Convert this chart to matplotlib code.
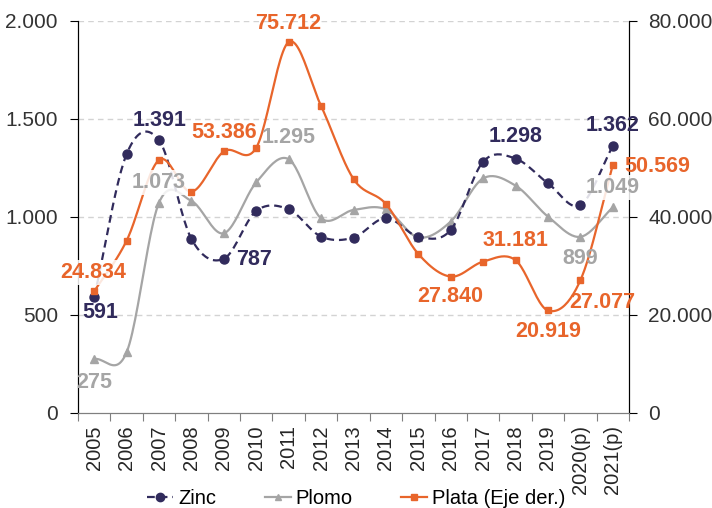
import numpy as np
import matplotlib
matplotlib.use('Agg')
import matplotlib.pyplot as plt

plt.rcParams['font.family'] = ['Liberation Sans', 'DejaVu Sans']

years = ['2005', '2006', '2007', '2008', '2009', '2010', '2011', '2012', '2013',
         '2014', '2015', '2016', '2017', '2018', '2019', '2020(p)', '2021(p)']
zinc = [591, 1321, 1391, 888, 787, 1031, 1039, 900, 895,
        995, 900, 934, 1282, 1298, 1172, 1061, 1362]
plomo = [275, 310, 1073, 1082, 917, 1177, 1295, 993, 1036,
         1039, 896, 977, 1197, 1160, 1002, 899, 1049]
plata = [24834, 35170, 51640, 45160, 53386, 54150, 75712, 62650, 47760,
         42650, 32450, 27840, 30900, 31181, 20919, 27077, 50569]

# labelled points: (year index, offset x px, offset y px)
zinc_labels = [(0, 6, -15), (2, 1, 20), (4, 30, -1), (13, 0, 22), (16, 0, 21)]
plomo_labels = [(0, 0, -23), (2, 0, 20), (6, 0, 22), (15, 0, -22), (16, 0, 20)]
plata_labels = [(0, -1, 19), (4, 0, 19), (6, 0, 19), (11, 0, -20), (13, 0, 20),
                (14, 0, -21), (15, 22, -22), (16, 44, -1)]

c_zinc = '#312B5C'
c_plomo = '#A5A5A5'
c_plata = '#E8652B'


def smooth(x, y, n=24):
    """ catmull-rom curve through the points, like excel smoothed lines """
    x = np.asarray(x, float)
    y = np.asarray(y, float)
    px = np.concatenate([[2 * x[0] - x[1]], x, [2 * x[-1] - x[-2]]])
    py = np.concatenate([[2 * y[0] - y[1]], y, [2 * y[-1] - y[-2]]])
    t = np.linspace(0, 1, n)
    xs, ys = [], []
    for i in range(1, len(px) - 2):
        for p, out in ((px, xs), (py, ys)):
            p0, p1, p2, p3 = p[i - 1], p[i], p[i + 1], p[i + 2]
            out.append(0.5 * (2 * p1 + (-p0 + p2) * t
                              + (2 * p0 - 5 * p1 + 4 * p2 - p3) * t ** 2
                              + (-p0 + 3 * p1 - 3 * p2 + p3) * t ** 3))
    return np.concatenate(xs), np.concatenate(ys)


def fmt(v):
    return f'{v:,.0f}'.replace(',', '.')


fig = plt.figure(figsize=(7.12, 5.08), dpi=100)
ax = fig.add_axes([78 / 712, 1 - 413 / 508, 551 / 712, 392 / 508])
ax2 = ax.twinx()

xpos = np.arange(len(years)) + 0.5

# gridlines
for v in [500, 1000, 1500, 2000]:
    ax.axhline(v, color='#D3D3D3', lw=1, dashes=(4, 3), zorder=0)

sx, sy = smooth(xpos, plomo)
ax.plot(sx, sy, color=c_plomo, lw=1.6, zorder=2)
ax.plot(xpos, plomo, ls='none', marker='^', ms=6, color=c_plomo, zorder=2)

sx, sy = smooth(xpos, zinc)
ax.plot(sx, sy, color=c_zinc, lw=1.6, dashes=(3.5, 2.2), zorder=3)
ax.plot(xpos, zinc, ls='none', marker='o', ms=6.5, color=c_zinc, zorder=3)

sx, sy = smooth(xpos, plata)
ax2.plot(sx, sy, color=c_plata, lw=1.6, zorder=2)
ax2.plot(xpos, plata, ls='none', marker='s', ms=5, color=c_plata, zorder=2)

# all labels go on ax2 so they sit over every line
lbl = dict(fontsize=15.5, fontweight='bold', ha='center', va='center',
           textcoords='offset pixels', zorder=5)
box = dict(boxstyle='square,pad=0.1', fc='white', ec='none', alpha=0.85)
for i, dx, dy in zinc_labels:
    ax2.annotate(fmt(zinc[i]), (xpos[i], zinc[i]), xycoords=ax.transData,
                 xytext=(dx, dy), color=c_zinc, **lbl)
for i, dx, dy in plomo_labels:
    b = box if i in (2, 16) else None
    ax2.annotate(fmt(plomo[i]), (xpos[i], plomo[i]), xycoords=ax.transData,
                 xytext=(dx, dy), color=c_plomo, bbox=b, **lbl)
for i, dx, dy in plata_labels:
    b = box if i == 0 else None
    ax2.annotate(fmt(plata[i]), (xpos[i], plata[i]), xytext=(dx, dy), color=c_plata,
                 bbox=b, **lbl)

ax.set_xlim(0, len(years))
ax.set_ylim(0, 2000)
ax2.set_ylim(0, 80000)
ax.set_yticks([0, 500, 1000, 1500, 2000])
ax.set_yticklabels([fmt(v) for v in [0, 500, 1000, 1500, 2000]])
ax2.set_yticks([0, 20000, 40000, 60000, 80000])
ax2.set_yticklabels([fmt(v) for v in [0, 20000, 40000, 60000, 80000]])

ax.set_xticks(np.arange(len(years) + 1))
ax.set_xticklabels([])
ax.set_xticks(xpos, minor=True)
ax.set_xticklabels(years, minor=True, rotation=90)
ax.tick_params(axis='x', which='major', length=6, color='#7F7F7F')
ax.tick_params(axis='x', which='minor', length=0, pad=9, labelsize=14.5, labelcolor='#262626')
ax.tick_params(axis='y', length=6, pad=8.5, labelsize=15, labelcolor='#333333')
ax2.tick_params(axis='y', length=6, pad=8, labelsize=15, labelcolor='#333333')

for a in (ax, ax2):
    a.spines['top'].set_visible(False)
    a.spines['bottom'].set_color('#7F7F7F')
    a.spines['left'].set_color('#000000')
    a.spines['right'].set_color('#000000')
    a.patch.set_visible(False)

h1 = plt.Line2D([], [], color=c_zinc, lw=1.6, dashes=(3.5, 2.2), marker='o', ms=6)
h2 = plt.Line2D([], [], color=c_plomo, lw=1.6, marker='^', ms=5)
h3 = plt.Line2D([], [], color=c_plata, lw=1.6, marker='s', ms=4.5)
fig.legend([h1, h2, h3], ['Zinc', 'Plomo', 'Plata (Eje der.)'], ncol=3,
           loc='center left', bbox_to_anchor=(147 / 712, 1 - 499 / 508), frameon=False,
           fontsize=14.5, handlelength=1.3, handletextpad=0.25, columnspacing=2.4,
           borderpad=0, borderaxespad=0)

fig.savefig('out.png', dpi=100)
